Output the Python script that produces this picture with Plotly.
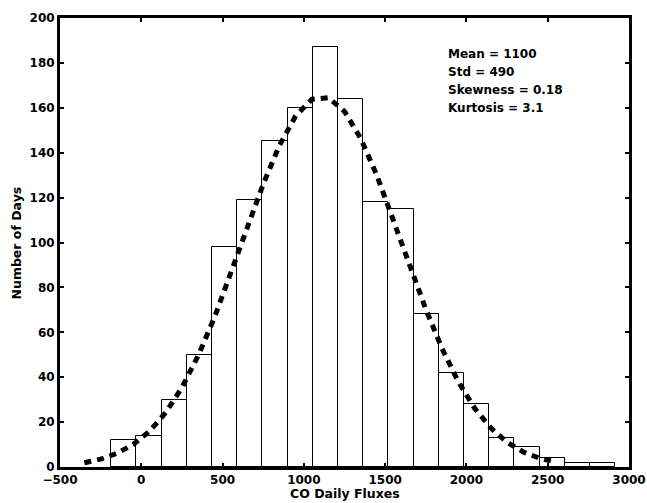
import plotly.graph_objects as go

# Histogram data (bins of equal width)
bin_start = -185
bin_width = 155
counts = [12, 14, 30, 50, 98, 119, 145, 160, 187, 164,
          118, 115, 68, 42, 28, 13, 9, 4, 2, 2]

# Fitted curve
curve_x = [-350, -250, -150, -50, 50, 150, 250, 350, 450, 550, 650, 750, 850, 950,
           1050, 1150, 1250, 1350, 1450, 1550, 1650, 1750, 1850, 1950, 2050,
           2150, 2250, 2350, 2450, 2550]
curve_y = [1.9, 3.5, 6.1, 10.0, 15.9, 24.2, 35.4, 49.6, 66.6, 85.9, 106.2, 126.0,
           143.3, 156.4, 163.8, 164.5, 158.4, 146.3, 129.7, 110.3, 89.9, 70.3,
           52.8, 38.0, 26.2, 17.4, 11.0, 6.7, 3.9, 2.2]

stats_lines = ["Mean = 1100", "Std = 490", "Skewness = 0.18", "Kurtosis = 3.1"]
x_ticks = [-500, 0, 500, 1000, 1500, 2000, 2500, 3000]
y_ticks = [0, 20, 40, 60, 80, 100, 120, 140, 160, 180, 200]

centers = [bin_start + bin_width * (i + 0.5) for i in range(len(counts))]

FONT = "DejaVu Sans"

fig = go.Figure()
fig.add_trace(go.Bar(
    x=centers, y=counts, width=bin_width,
    marker=dict(color="white", line=dict(color="black", width=1)),
    showlegend=False,
))
fig.add_trace(go.Scatter(
    x=curve_x, y=curve_y, mode="lines",
    line=dict(color="black", width=5, dash="7px,6px"),
    showlegend=False,
))

for i, t in enumerate(stats_lines):
    fig.add_annotation(
        x=1876, y=184.1 - 8.0 * i, xref="x", yref="y",
        text="<b>" + t + "</b>", showarrow=False,
        xanchor="left", yanchor="middle",
        font=dict(family=FONT, size=12, color="black"),
    )

fig.add_annotation(
    x=0.5, y=-0.059, xref="paper", yref="paper",
    text="<b>CO Daily Fluxes</b>", showarrow=False,
    xanchor="center", yanchor="middle",
    font=dict(family=FONT, size=12.5, color="black"),
)
fig.add_annotation(
    x=-0.0756, y=0.5, xref="paper", yref="paper",
    text="<b>Number of Days</b>", showarrow=False, textangle=-90,
    xanchor="center", yanchor="middle",
    font=dict(family=FONT, size=12.5, color="black"),
)

tickfont = dict(family=FONT, size=12, color="black", weight="bold")
axis_common = dict(
    showline=True, linewidth=3, linecolor="black", mirror="allticks",
    ticks="inside", ticklen=4, tickwidth=1.5, tickcolor="black",
    showgrid=False, zeroline=False,
    tickfont=tickfont,
)

fig.update_layout(
    width=647, height=503,
    margin=dict(l=60, r=18, t=18, b=36, autoexpand=False),
    paper_bgcolor="white", plot_bgcolor="white",
    bargap=0,
    xaxis=dict(range=[-500, 3000], tickvals=x_ticks,
               ticktext=[("\u2212" + str(-v)) if v < 0 else str(v) for v in x_ticks],
               **axis_common),
    yaxis=dict(range=[0, 200], tickvals=y_ticks, **axis_common),
    font=dict(family=FONT, color="black"),
)

fig.write_html("out.html")
